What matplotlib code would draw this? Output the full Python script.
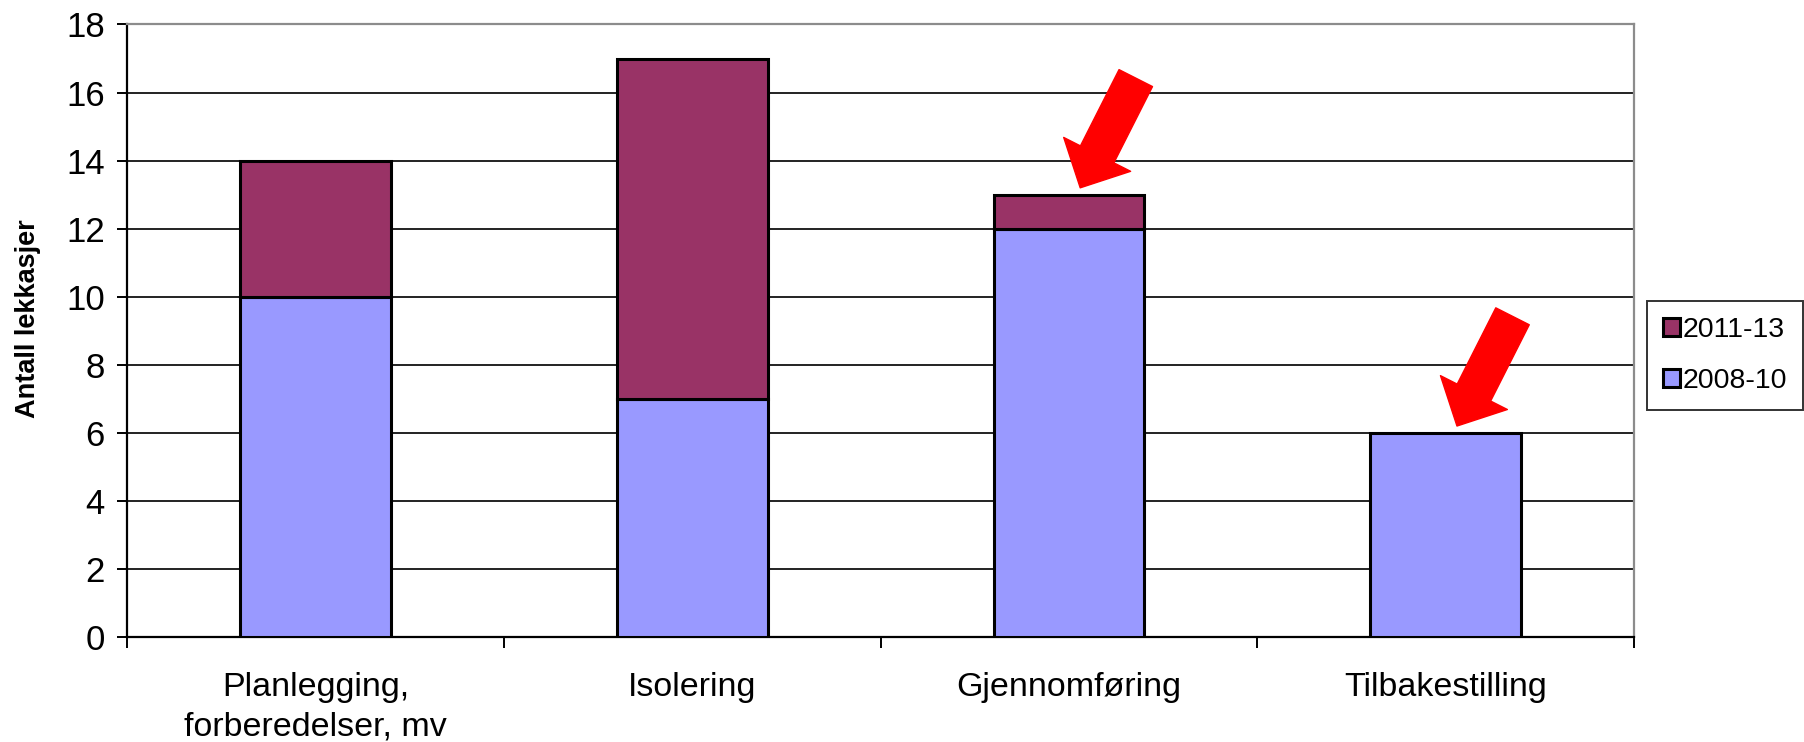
import matplotlib
matplotlib.use("Agg")
import matplotlib.pyplot as plt
import numpy as np

plt.rcParams['font.family'] = ['Liberation Sans', 'DejaVu Sans']

categories = ["Planlegging,\nforberedelser, mv", "Isolering", "Gjennomføring", "Tilbakestilling"]
series_2008_10 = [10, 7, 12, 6]
series_2011_13 = [4, 10, 1, 0]
y_ticks = [0, 2, 4, 6, 8, 10, 12, 14, 16, 18]
# bar tops that get a red pointer arrow
highlight_idx = [2, 3]

fig = plt.figure(figsize=(18.04, 7.42), dpi=100)
ax = fig.add_axes([0.0704, 0.1415, 0.8354, 0.8255])

x = np.arange(len(categories))
blue = "#9999FF"
purple = "#993366"
bw = 0.40
ax.bar(x, series_2008_10, width=bw, color=blue, edgecolor="black", linewidth=2.2,
       label="2008-10", zorder=3)
top_vals = np.array(series_2011_13)
mask = top_vals > 0
ax.bar(x[mask], top_vals[mask], bottom=np.array(series_2008_10)[mask], width=bw,
       color=purple, edgecolor="black", linewidth=2.2, label="2011-13", zorder=3)

ax.set_xlim(-0.5, len(categories) - 0.5)
ax.set_ylim(0, 18)
ax.set_yticks(y_ticks)
ax.yaxis.grid(True, color="#222222", linewidth=1.4, zorder=0)
ax.set_axisbelow(True)

ax.set_xticks(x)
ax.set_xticklabels(categories, fontsize=24.5, linespacing=1.35)
ax.tick_params(axis="x", length=0, pad=25)
ax.set_xticks(np.arange(-0.5, len(categories), 1.0), minor=True)
ax.tick_params(axis="x", which="minor", length=8, width=1.4, direction="out", color="black")
ax.tick_params(axis="y", length=7, width=1.4, direction="out", labelsize=25, pad=9)

for side in ("left", "bottom"):
    ax.spines[side].set_color("black")
    ax.spines[side].set_linewidth(1.6)
for side in ("top", "right"):
    ax.spines[side].set_color("#8c8c8c")
    ax.spines[side].set_linewidth(1.6)

ax.set_ylabel("Antall lekkasjer", fontsize=19.5, fontweight="bold", labelpad=18)
ax.yaxis.label.set_y(0.52)

# red pointer arrows at the highlighted bar tops
totals = np.array(series_2008_10) + np.array(series_2011_13)
for i in highlight_idx:
    ax.annotate("", xy=(i + 0.03, totals[i] + 0.2), xycoords="data",
                xytext=(40, 79), textcoords="offset points",
                arrowprops=dict(arrowstyle="simple,head_length=27,head_width=54,tail_width=27",
                                mutation_scale=1, color="#FF0000", shrinkA=0, shrinkB=0),
                zorder=5)

handles, labels = ax.get_legend_handles_labels()
leg = fig.legend(handles[::-1], labels[::-1], loc="center left",
                 bbox_to_anchor=(0.913, 0.521), fontsize=20.5, frameon=True,
                 fancybox=False, edgecolor="black", handlelength=0.6, handleheight=0.6,
                 handletextpad=0.1, borderpad=0.55, labelspacing=0.9, borderaxespad=0)
leg.get_frame().set_linewidth(1.4)

fig.savefig("out.png", dpi=100, facecolor="white")
